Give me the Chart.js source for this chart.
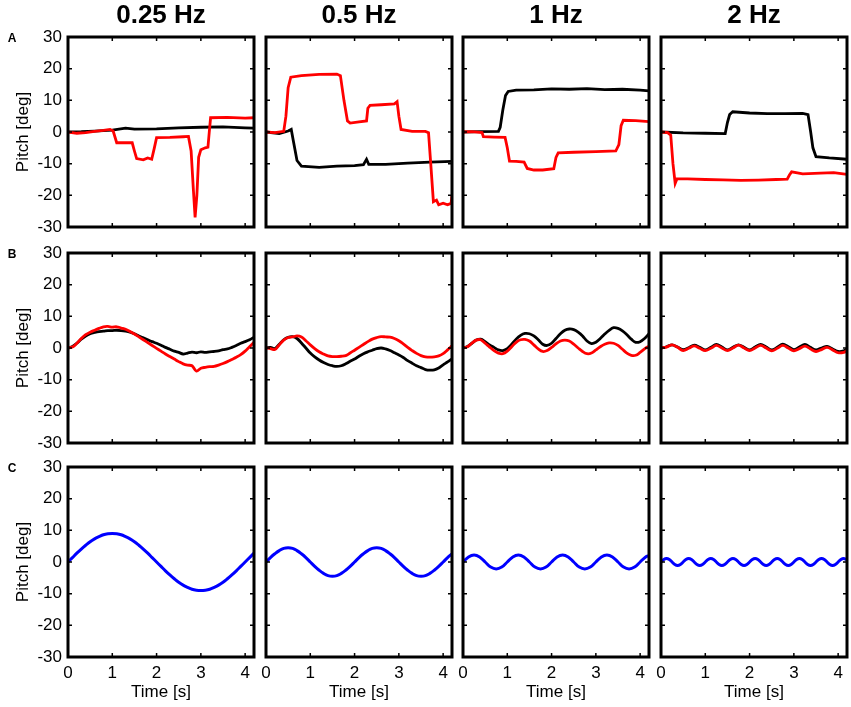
<!DOCTYPE html>
<html>
<head>
<meta charset="utf-8">
<script src="https://cdn.jsdelivr.net/npm/chart.js"></script>
<style>
html, body { margin: 0; padding: 0; background: #fff; width: 851px; height: 707px; overflow: hidden; }
canvas { position: absolute; }
</style>
</head>
<body>
<script>
// panel headings and axis ticks
const freqLabels = ['0.25 Hz', '0.5 Hz', '1 Hz', '2 Hz'];
const rowLetters = ['A', 'B', 'C'];
const xTicks = [0, 1, 2, 3, 4];
const yTicks = [-30, -20, -10, 0, 10, 20, 30];

// row A: [time s, pitch deg]
const a1Black = [[0,0],[0.3,0.1],[0.6,0.3],[1.0,0.6],[1.3,1.2],[1.5,0.9],[2.0,1.0],[2.5,1.3],[3.0,1.5],[3.5,1.6],[4.0,1.3],[4.2,1.2]];
const a1Red = [[0,0],[0.2,-0.4],[0.4,-0.2],[0.6,0.2],[0.8,0.5],[0.95,0.8],[1.02,0.3],[1.1,-3.4],[1.45,-3.4],[1.5,-6],[1.55,-8.4],[1.7,-8.8],[1.8,-8.2],[1.89,-8.6],[1.95,-5],[2.0,-1.8],[2.3,-1.7],[2.6,-1.5],[2.72,-1.4],[2.78,-6],[2.83,-18],[2.87,-27],[2.91,-20],[2.95,-8],[3.0,-5.6],[3.1,-5],[3.16,-4.8],[3.19,0],[3.22,4.5],[3.6,4.6],[4.0,4.4],[4.2,4.5]];
const a2Black = [[0,0],[0.3,-0.5],[0.5,0.3],[0.57,0.8],[0.62,-3],[0.7,-9],[0.8,-10.8],[1.2,-11.2],[1.6,-10.8],[2.0,-10.6],[2.2,-10.3],[2.27,-8.6],[2.32,-10.2],[2.7,-10.2],[3.2,-9.8],[3.7,-9.5],[4.2,-9.3]];
const a2Red = [[0,0],[0.2,-0.2],[0.4,0.2],[0.45,5],[0.5,14],[0.56,17.3],[0.8,17.8],[1.2,18.2],[1.6,18.3],[1.68,17.8],[1.76,10],[1.84,3.5],[1.9,2.8],[2.1,3.2],[2.27,3.5],[2.3,7.5],[2.35,8.4],[2.6,8.6],[2.9,8.9],[2.96,9.6],[3.0,5],[3.05,0.8],[3.3,0.2],[3.6,0.2],[3.67,-0.2],[3.72,-10],[3.78,-22],[3.85,-21.5],[3.9,-23],[4.0,-22.5],[4.1,-23],[4.18,-22.5],[4.2,-20]];
const a3Black = [[0,0],[0.4,0.1],[0.8,0.2],[0.84,1.5],[0.9,7],[0.96,11.5],[1.02,12.8],[1.2,13.2],[1.6,13.3],[2.0,13.6],[2.4,13.5],[2.8,13.7],[3.2,13.4],[3.6,13.5],[4.0,13.2],[4.2,13.0]];
const a3Red = [[0,0],[0.2,0.1],[0.43,-0.2],[0.46,-1.5],[0.7,-1.6],[0.95,-1.7],[1.0,-5],[1.05,-9.2],[1.2,-9.3],[1.38,-9.5],[1.45,-11.5],[1.6,-12],[1.8,-12],[2.05,-11.6],[2.1,-8],[2.15,-6.6],[2.5,-6.4],[3.0,-6.2],[3.45,-6],[3.52,-4],[3.57,2],[3.62,3.7],[3.9,3.6],[4.2,3.3]];
const a4Black = [[0,0],[0.5,-0.3],[1.0,-0.4],[1.45,-0.5],[1.5,3],[1.55,5.5],[1.62,6.4],[2.0,6.0],[2.4,5.8],[2.8,5.8],[3.2,5.9],[3.32,5.5],[3.38,0],[3.43,-5],[3.5,-7.8],[3.8,-8.2],[4.2,-8.6]];
const a4Red = [[0,0],[0.15,-0.2],[0.22,-1],[0.27,-10],[0.32,-16.2],[0.36,-14.8],[0.6,-14.8],[1.0,-15],[1.4,-15.1],[1.8,-15.3],[2.2,-15.2],[2.6,-15.0],[2.85,-14.9],[2.9,-13.6],[2.95,-12.6],[3.2,-13.2],[3.6,-13],[3.9,-12.8],[4.2,-13.4]];

// rows B and C: sampled every 0.1 s, 0.125 s or 0.0625 s
const t10 = [0,0.1,0.2,0.3,0.4,0.5,0.6,0.7,0.8,0.9,1,1.1,1.2,1.3,1.4,1.5,1.6,1.7,1.8,1.9,2,2.1,2.2,2.3,2.4,2.5,2.6,2.7,2.8,2.9,3,3.1,3.2,3.3,3.4,3.5,3.6,3.7,3.8,3.9,4,4.1,4.2];
const t8 = [0,0.125,0.25,0.375,0.5,0.625,0.75,0.875,1,1.125,1.25,1.375,1.5,1.625,1.75,1.875,2,2.125,2.25,2.375,2.5,2.625,2.75,2.875,3,3.125,3.25,3.375,3.5,3.625,3.75,3.875,4,4.125,4.2];
const t16 = [0,0.0625,0.125,0.1875,0.25,0.3125,0.375,0.4375,0.5,0.5625,0.625,0.6875,0.75,0.8125,0.875,0.9375,1,1.0625,1.125,1.1875,1.25,1.3125,1.375,1.4375,1.5,1.5625,1.625,1.6875,1.75,1.8125,1.875,1.9375,2,2.0625,2.125,2.1875,2.25,2.3125,2.375,2.4375,2.5,2.5625,2.625,2.6875,2.75,2.8125,2.875,2.9375,3,3.0625,3.125,3.1875,3.25,3.3125,3.375,3.4375,3.5,3.5625,3.625,3.6875,3.75,3.8125,3.875,3.9375,4,4.0625,4.125,4.1875,4.2];

const b1Black = [0,0.5,1.5,2.8,3.8,4.5,4.9,5.2,5.3,5.5,5.5,5.6,5.5,5.3,5.0,4.5,3.8,3.2,2.6,2.0,1.5,0.9,0.2,-0.4,-1.0,-1.4,-1.9,-1.6,-1.3,-1.5,-1.2,-1.4,-1.2,-1.1,-0.9,-0.5,-0.3,0.2,0.8,1.5,2.0,2.6,3.4];
const b1Red = [0,0.3,1.5,3.0,4.2,5.0,5.6,6.2,6.7,6.8,6.6,6.7,6.3,5.9,5.2,4.4,3.5,2.6,1.7,0.8,-0.1,-1.0,-1.9,-2.7,-3.5,-4.3,-5.0,-5.4,-5.6,-7.3,-6.4,-6.1,-5.9,-5.8,-5.4,-4.9,-4.3,-3.6,-2.9,-2.1,-1.0,0.4,1.8];
const b2Black = [0,0.2,-0.2,1.2,2.6,3.4,3.6,3.0,1.6,0.0,-1.6,-2.8,-3.8,-4.6,-5.2,-5.6,-5.8,-5.6,-5.0,-4.2,-3.5,-2.6,-1.8,-1.2,-0.7,-0.2,0.0,-0.3,-0.8,-1.5,-2.2,-3.0,-4.0,-4.8,-5.6,-6.2,-6.8,-7.0,-6.9,-6.3,-5.3,-4.4,-3.4];
const b2Red = [0,-0.2,-0.5,1.0,2.5,3.3,3.5,3.8,3.5,2.3,1.0,-0.2,-1.2,-1.9,-2.5,-2.7,-2.7,-2.6,-2.4,-1.6,-0.7,0.2,1.1,2.0,2.8,3.3,3.6,3.5,3.4,3.0,2.3,1.3,0.2,-0.8,-1.7,-2.4,-2.8,-2.9,-2.8,-2.5,-1.8,-0.6,0.7];
const b3Black = [0,0.5,1.5,2.5,2.8,2.0,1.0,0.2,-0.6,-0.8,-0.2,1.2,2.8,4.0,4.6,4.5,3.8,2.6,1.2,0.8,1.5,3.0,4.5,5.6,6.0,5.8,5.0,3.8,2.2,1.4,1.8,3.0,4.4,5.6,6.4,6.2,5.4,4.2,2.8,1.8,2.0,3.0,4.5];
const b3Red = [0,0.4,1.5,2.5,2.6,1.5,0.3,-0.8,-1.6,-1.8,-1.0,0.4,1.8,2.6,2.7,2.2,1.0,-0.3,-1.1,-0.8,0.2,1.3,2.2,2.5,2.2,1.2,0.0,-1.1,-1.8,-1.6,-0.6,0.4,1.2,1.6,1.5,0.8,-0.4,-1.6,-2.3,-2.3,-1.4,-0.3,0.6];
const b4Black = [0,0.4,1.0,0.3,-0.5,0.1,0.9,0.2,-0.6,0.2,1.1,0.3,-0.6,0.2,1.0,0.2,-0.6,0.3,1.1,0.3,-0.6,0.2,1.2,0.4,-0.5,0.3,1.1,0.2,-0.6,0.0,0.5,-0.3,-1.1,-0.9,-0.2];
const b4Red = [0,0.3,1.0,0.2,-0.8,-0.1,0.7,-0.1,-0.8,-0.1,0.8,0.0,-0.8,0.0,0.9,0.0,-0.8,0.0,0.8,0.0,-0.9,-0.1,0.8,0.0,-0.9,-0.2,0.6,-0.3,-1.1,-0.5,0.2,-0.6,-1.5,-1.4,-0.8];

const c1Blue = [0,1.4,2.8,4.1,5.3,6.4,7.3,8.0,8.6,8.9,9.0,8.9,8.6,8.0,7.3,6.4,5.3,4.1,2.8,1.4,0,-1.4,-2.8,-4.1,-5.3,-6.4,-7.3,-8.0,-8.6,-8.9,-9.0,-8.9,-8.6,-8.0,-7.3,-6.4,-5.3,-4.1,-2.8,-1.4,0,1.4,2.8];
const c2Blue = [0,1.4,2.6,3.6,4.3,4.5,4.3,3.6,2.6,1.4,0,-1.4,-2.6,-3.6,-4.3,-4.5,-4.3,-3.6,-2.6,-1.4,0,1.4,2.6,3.6,4.3,4.5,4.3,3.6,2.6,1.4,0,-1.4,-2.6,-3.6,-4.3,-4.5,-4.3,-3.6,-2.6,-1.4,0,1.4,2.6];
const c3Blue = [0,1.6,2.2,1.6,0,-1.6,-2.2,-1.6,0,1.6,2.2,1.6,0,-1.6,-2.2,-1.6,0,1.6,2.2,1.6,0,-1.6,-2.2,-1.6,0,1.6,2.2,1.6,0,-1.6,-2.2,-1.6,0,1.6,2.0];
const c4Blue = [0,0.8,1.1,0.8,0,-0.8,-1.1,-0.8,0,0.8,1.1,0.8,0,-0.8,-1.1,-0.8,0,0.8,1.1,0.8,0,-0.8,-1.1,-0.8,0,0.8,1.1,0.8,0,-0.8,-1.1,-0.8,0,0.8,1.1,0.8,0,-0.8,-1.1,-0.8,0,0.8,1.1,0.8,0,-0.8,-1.1,-0.8,0,0.8,1.1,0.8,0,-0.8,-1.1,-0.8,0,0.8,1.1,0.8,0,-0.8,-1.1,-0.8,0,0.8,1.1,0.8,0.7];

// layout of the 3x4 grid (plot-area boxes in page pixels)
const lefts = [68, 266, 463, 661];
const tops = [37, 253, 467];
const W = 186, H = 190;
const LM = 68, RM = 6, TM = 37, BM = 48;

Chart.defaults.font.family = '"Liberation Sans", Arial, Helvetica, sans-serif';
Chart.defaults.color = '#000';

const fromPairs = p => p.map(([x, y]) => ({ x, y }));
const fromArrays = (ts, vs) => vs.map((v, i) => ({ x: ts[i], y: v }));

function trace(data, color, width, order, tension) {
  return { data, borderColor: color, borderWidth: width, order, pointRadius: 0, fill: false, tension };
}

const RED = '#ff0000', BLACK = '#000000', BLUE = '#0000ff';

const rows = [
  [[a1Red, a1Black], [a2Red, a2Black], [a3Red, a3Black], [a4Red, a4Black]].map(([r, b]) => [
    trace(fromPairs(r), RED, 2.8, 0, 0), trace(fromPairs(b), BLACK, 2.8, 1, 0)
  ]),
  [[t10, b1Red, b1Black], [t10, b2Red, b2Black], [t10, b3Red, b3Black], [t8, b4Red, b4Black]].map(([t, r, b]) => [
    trace(fromArrays(t, r), RED, 2.8, 0, 0.35), trace(fromArrays(t, b), BLACK, 2.8, 1, 0.35)
  ]),
  [[t10, c1Blue], [t10, c2Blue], [t8, c3Blue], [t16, c4Blue]].map(([t, v]) => [
    trace(fromArrays(t, v), BLUE, 3, 0, 0.4)
  ])
];

// box frame, inward tick marks, row letter
function framePlugin(letter) {
  return {
    id: 'frame',
    afterDatasetsDraw(chart) {
      const { ctx, chartArea: a, scales: { x, y } } = chart;
      ctx.save();
      ctx.strokeStyle = '#000';
      ctx.lineWidth = 1.5;
      ctx.beginPath();
      xTicks.forEach(v => {
        const px = x.getPixelForValue(v);
        ctx.moveTo(px, a.bottom); ctx.lineTo(px, a.bottom - 4);
        ctx.moveTo(px, a.top); ctx.lineTo(px, a.top + 4);
      });
      yTicks.forEach(v => {
        const py = y.getPixelForValue(v);
        ctx.moveTo(a.left, py); ctx.lineTo(a.left + 4, py);
        ctx.moveTo(a.right, py); ctx.lineTo(a.right - 4, py);
      });
      ctx.stroke();
      ctx.lineWidth = 3;
      ctx.strokeRect(a.left, a.top, a.right - a.left, a.bottom - a.top);
      if (letter) {
        ctx.fillStyle = '#000';
        ctx.font = 'bold 12px "Liberation Sans", Arial, sans-serif';
        ctx.textAlign = 'center';
        ctx.textBaseline = 'middle';
        ctx.fillText(letter, 12, a.top + 2);
      }
      ctx.restore();
    }
  };
}

function makePanel(r, c) {
  const cv = document.createElement('canvas');
  cv.width = LM + W + RM;
  cv.height = TM + H + BM;
  cv.style.left = (lefts[c] - LM) + 'px';
  cv.style.top = (tops[r] - TM) + 'px';
  document.body.appendChild(cv);
  const first = c === 0, top = r === 0, bottom = r === 2;
  new Chart(cv, {
    type: 'line',
    data: { datasets: rows[r][c] },
    options: {
      responsive: false,
      animation: false,
      devicePixelRatio: 1,
      layout: { padding: { left: 0, right: RM, top: top ? 0 : TM, bottom: 0 } },
      plugins: {
        legend: { display: false },
        tooltip: { enabled: false },
        title: {
          display: top, text: freqLabels[c], fullSize: false,
          font: { size: 26, weight: 'bold' }, padding: { top: 0, bottom: TM - 31.2 }
        }
      },
      scales: {
        x: {
          type: 'linear', min: 0, max: 4.2,
          grid: { display: false, drawTicks: false }, border: { display: false },
          ticks: { display: bottom, stepSize: 1, includeBounds: false, padding: 6, maxRotation: 0, autoSkip: false, font: { size: 17 } },
          title: { display: bottom, text: 'Time [s]', font: { size: 17 }, padding: { top: 0, bottom: 2 } },
          afterFit: s => { s.height = BM; }
        },
        y: {
          type: 'linear', min: -30, max: 30,
          grid: { display: false, drawTicks: false }, border: { display: false },
          ticks: { display: first, stepSize: 10, padding: 6, font: { size: 17 } },
          title: { display: first, text: 'Pitch [deg]', font: { size: 17 }, padding: { top: 13, bottom: 0 } },
          afterFit: s => { s.width = LM; }
        }
      }
    },
    plugins: [framePlugin(first ? rowLetters[r] : null)]
  });
}

for (let r = 0; r < 3; r++) {
  for (let c = 0; c < 4; c++) makePanel(r, c);
}
</script>
</body>
</html>
